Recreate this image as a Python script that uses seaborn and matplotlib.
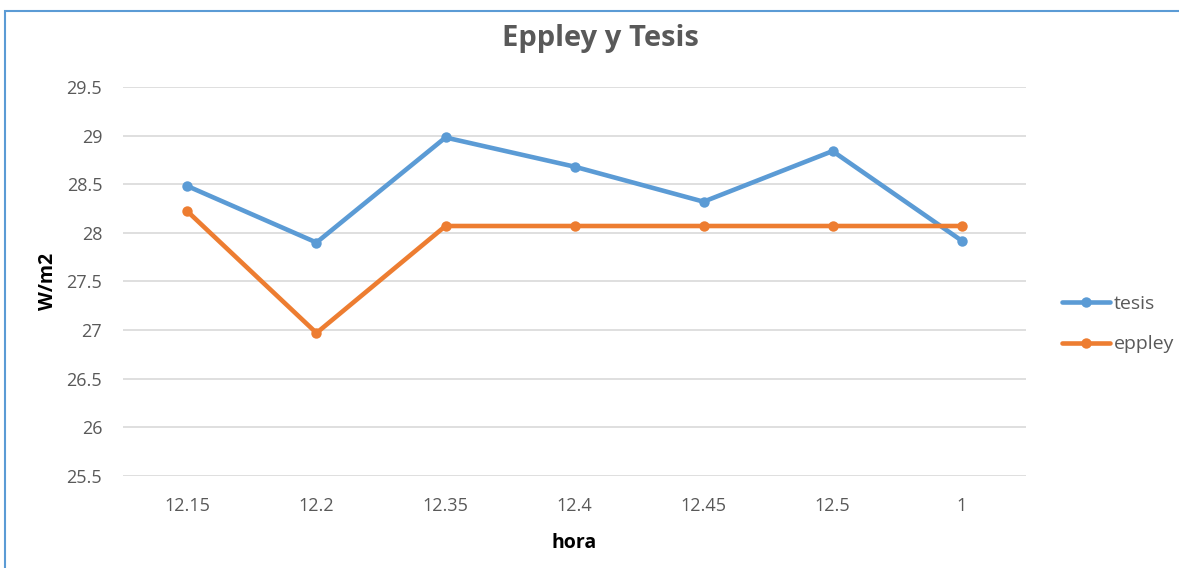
import pandas as pd
import matplotlib.pyplot as plt
import seaborn as sb
from matplotlib.patches import Rectangle

# DATA
#-----------------------------------
horas = ["12.15", "12.2", "12.35", "12.4", "12.45", "12.5", "1"]
tesis = [28.48, 27.90, 28.98, 28.68, 28.32, 28.84, 27.92]
eppley = [28.22, 26.97, 28.07, 28.07, 28.07, 28.07, 28.07]
y_ticks = [25.5, 26, 26.5, 27, 27.5, 28, 28.5, 29, 29.5]
y_labels = ["25.5", "26", "26.5", "27", "27.5", "28", "28.5", "29", "29.5"]

df = pd.DataFrame({
    "hora": horas * 2,
    "valor": tesis + eppley,
    "serie": ["tesis"] * len(horas) + ["eppley"] * len(horas),
})

# PLOT
#-----------------------------------
sb.set_style("white")
plt.rcParams["font.family"] = ["Open Sans", "DejaVu Sans"]

fig = plt.figure(figsize=(11.79, 5.68), dpi=100)
ax = fig.add_axes([0.1043, 0.162, 0.7660, 0.685])

sb.lineplot(data=df, x="hora", y="valor", hue="serie", sort=False,
            palette={"tesis": "#5B9BD5", "eppley": "#ED7D31"},
            marker="o", markersize=7.5, markeredgewidth=0, linewidth=3.3,
            ax=ax)

ax.set_xlim(-0.5, 6.5)
ax.set_ylim(25.5, 29.5)
ax.set_yticks(y_ticks)
ax.set_yticklabels(y_labels)
ax.grid(axis="y", color="#D9D9D9", linewidth=1.2)
ax.set_axisbelow(True)
for s in ax.spines.values():
    s.set_visible(False)
ax.tick_params(axis="both", length=0, labelsize=13, labelcolor="#595959")
ax.tick_params(axis="x", pad=15)
ax.tick_params(axis="y", pad=15)

ax.set_xlabel("hora", fontsize=14, fontweight="bold", color="black", labelpad=13)
ax.set_ylabel("W/m2", fontsize=14, fontweight="bold", color="black", labelpad=6)
fig.text(0.509, 0.933, "Eppley y Tesis", ha="center", va="center",
         fontsize=21, fontweight="bold", color="#595959")

leg = ax.legend(loc="center left", bbox_to_anchor=(1.031, 0.39), frameon=False,
                fontsize=14, handlelength=2.5, handletextpad=0.15,
                labelspacing=1.15, borderaxespad=0)
for t in leg.get_texts():
    t.set_color("#595959")

# blue chart frame
fig.patches.append(Rectangle((0.0045, -0.1), 1.2, 1.081, transform=fig.transFigure,
                             fill=False, edgecolor="#5B9BD5", linewidth=1.5))

plt.savefig("out.png", dpi=100)
